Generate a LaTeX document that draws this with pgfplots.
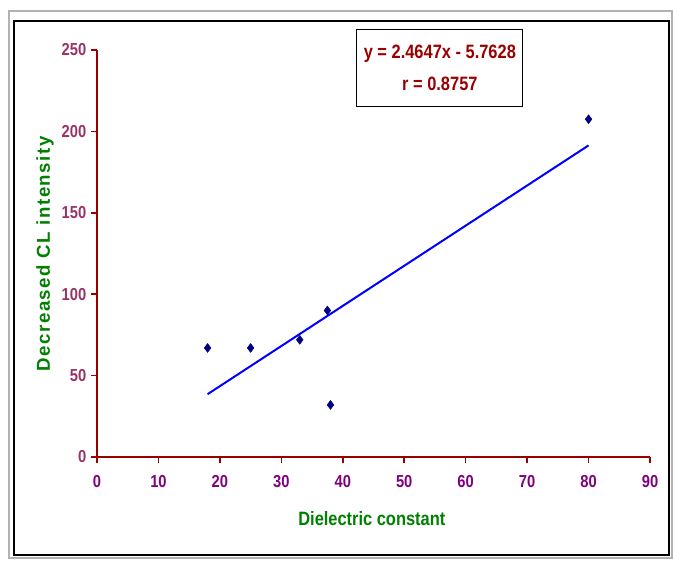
\documentclass[border=0pt]{standalone}
\usepackage{pgfplots}
\pgfplotsset{compat=1.18}
\usepackage{fontspec}
\setmainfont{Liberation Sans}
\newfontfamily\narrow[FakeStretch=0.85]{Liberation Sans}
\newfontfamily\spaced[LetterSpace=8]{Liberation Sans}
\definecolor{axred}{HTML}{990000}
\definecolor{ytl}{HTML}{993366}
\definecolor{xtl}{HTML}{800080}
\definecolor{lblgreen}{HTML}{008000}
\definecolor{eqred}{HTML}{990000}
\definecolor{navy}{HTML}{000080}
\begin{document}
\begin{tikzpicture}
\path (0,0) rectangle (504.75pt,-420.75pt);
\draw[gray!60, line width=0.9pt] (6.75pt,-8.25pt) rectangle (504pt,-418.5pt);
\draw[black, line width=0.9pt] (10.5pt,-15.75pt) rectangle (501.75pt,-416.25pt);
\begin{axis}[
  at={(72.75pt,-342.75pt)}, anchor=south west,
  scale only axis, width=414.75pt, height=305.25pt,
  xmin=0, xmax=90, ymin=0, ymax=250,
  xtick={0,10,...,90}, ytick={0,50,...,250},
  axis lines*=left,
  axis line style={axred, line width=1.1pt},
  tick style={axred, line width=1.1pt},
  tick align=outside, major tick length=4.5pt,
  clip=false,
  x tick label style={font=\narrow\bfseries\fontsize{13}{14}\selectfont, text=xtl, yshift=-6pt},
  y tick label style={font=\narrow\bfseries\fontsize{13}{14}\selectfont, text=ytl},
  /pgf/number format/assume math mode=true,
  xlabel={Dielectric constant},
  ylabel={Decreased CL intensity},
  x label style={at={(axis description cs:0.497,-0.152)}, anchor=center, font=\narrow\bfseries\fontsize{14.5}{15}\selectfont, text=lblgreen},
  y label style={at={(axis description cs:-0.094,0.499)}, anchor=center, rotate=0, font=\spaced\bfseries\fontsize{14}{15}\selectfont, text=lblgreen},
]
\addplot[only marks, mark=diamond*, mark size=3.3pt, navy, mark options={fill=navy, draw=navy}] coordinates {
  (18,67) (25,67) (33,72) (37.5,90) (38,32) (80,207.5)
};
\addplot[blue, line width=1.5pt] coordinates {
  (18,38.6) (80,191.4)
};
\node[draw=black, line width=0.9pt, minimum width=124.5pt, minimum height=57.75pt, inner sep=0pt, align=center,
  font=\narrow\bfseries\fontsize{14.5}{24}\selectfont, text=eqred]
  at (rel axis cs:0.620,0.955) {y = 2.4647x - 5.7628\\r = 0.8757};
\end{axis}
\end{tikzpicture}
\end{document}
